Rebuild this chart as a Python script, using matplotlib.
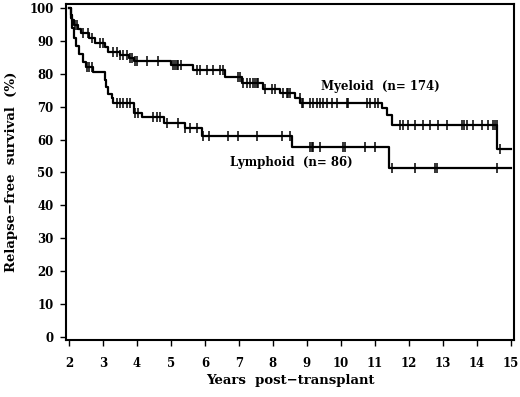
import numpy as np
import matplotlib.pyplot as plt

# Kaplan-Meier step data (years, % surviving)
myeloid_t = [2.0, 2.05, 2.1, 2.15, 2.25, 2.35, 2.6, 2.75, 3.05, 3.15, 3.5, 3.75, 3.9,
             5.0, 5.65, 6.6, 7.1, 7.7, 8.2, 8.65, 8.8, 11.2, 11.35, 11.5, 14.6, 15.0]
myeloid_s = [100, 98, 96.5, 95, 93.5, 92.3, 91, 89.5, 88.2, 86.7, 85.7, 84.8, 83.8,
             82.7, 81.2, 79, 77.3, 75.5, 74.2, 72.6, 71.1, 69.6, 67.5, 64.4, 57.1, 57.1]
myeloid_cens = [2.18, 2.22, 2.41, 2.56, 2.68, 2.91, 3.0, 3.29, 3.41, 3.5, 3.59, 3.71,
                3.79, 3.85, 3.94, 4.0, 4.29, 4.62, 5.06, 5.12, 5.18, 5.22, 5.3, 5.76,
                5.85, 6.06, 6.24, 6.44, 6.53, 6.97, 7.03, 7.12, 7.24, 7.32, 7.41, 7.47,
                7.53, 7.56, 7.76, 7.97, 8.06, 8.29, 8.41, 8.44, 8.5, 8.79, 8.85, 8.88,
                9.09, 9.18, 9.29, 9.38, 9.47, 9.59, 9.74, 9.88, 10.18, 10.2, 10.76,
                10.85, 11.0, 11.09, 11.74, 11.82, 11.97, 12.18, 12.41, 12.62, 12.85,
                13.12, 13.56, 13.62, 13.7, 13.88, 14.15, 14.32, 14.47, 14.53, 14.59, 14.68]

lymphoid_t = [2.0, 2.05, 2.1, 2.15, 2.2, 2.3, 2.4, 2.5, 2.7, 3.05, 3.1, 3.15, 3.25, 3.3,
              3.9, 4.15, 4.8, 5.4, 5.9, 8.55, 11.42, 15.0]
lymphoid_s = [100, 97, 94, 91, 88.5, 86, 83.5, 82, 80.5, 78, 76, 74, 72.5, 71,
              68, 66.8, 65, 63.5, 61, 57.8, 51.4, 51.4]
lymphoid_cens = [2.53, 2.59, 2.68, 3.41, 3.5, 3.59, 3.71, 3.79, 3.94, 4.03, 4.47, 4.59,
                 4.68, 4.88, 5.2, 5.41, 5.56, 5.76, 5.94, 6.12, 6.68, 6.97, 7.53, 8.26,
                 8.5, 9.09, 9.15, 9.18, 9.38, 10.06, 10.12, 10.71, 11.0, 11.5, 12.18,
                 12.76, 12.82, 14.59]

plt.rcParams['font.family'] = 'DejaVu Serif'
plt.rcParams['font.weight'] = 'bold'

fig = plt.figure(figsize=(5.2, 3.97), dpi=100)
ax = fig.add_axes([0.127, 0.1436, 0.861, 0.846])


def km_level(t, s, x):
    idx = np.searchsorted(t, x, side='right') - 1
    return np.array(s)[idx]


for t, s, c in [(myeloid_t, myeloid_s, myeloid_cens), (lymphoid_t, lymphoid_s, lymphoid_cens)]:
    ax.plot(t, s, drawstyle='steps-post', color='black', lw=1.6)
    ax.plot(c, km_level(t, s, c), ls='none', marker='|', ms=7, mew=1.1, color='black')

ax.text(11.15, 76, 'Myeloid  (n= 174)', ha='center', va='center', fontsize=8.5, fontweight='bold')
ax.text(8.53, 53, 'Lymphoid  (n= 86)', ha='center', va='center', fontsize=8.5, fontweight='bold')

ax.set_xlim(1.91, 15.09)
ax.set_ylim(-1, 101.2)
ax.set_xticks(range(2, 16))
ax.set_yticks(range(0, 101, 10))
ax.tick_params(direction='out', length=4, width=1, labelsize=8.5)
ax.tick_params(axis='x', pad=8)
ax.tick_params(axis='y', pad=5)
for sp in ax.spines.values():
    sp.set_linewidth(1.5)

ax.set_xlabel('Years  post\u2212transplant', fontsize=9.5, fontweight='bold', labelpad=3)
ax.set_ylabel('Relapse\u2212free  survival  (%)', fontsize=9.5, fontweight='bold', labelpad=8)

fig.savefig('out.png', dpi=100)
